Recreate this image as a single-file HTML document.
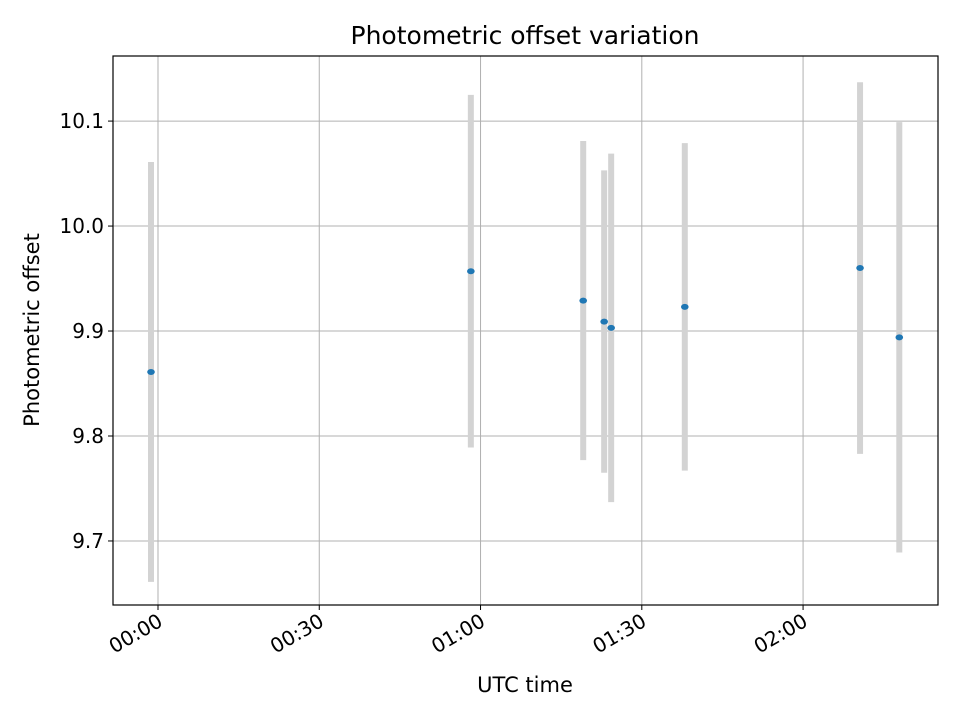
<!DOCTYPE html>
<html><head><meta charset="utf-8"><style>
body{margin:0;background:#fff;font-family:"DejaVu Sans","Liberation Sans",sans-serif;}
</style></head><body>
<svg id="chart" width="960" height="720" xmlns="http://www.w3.org/2000/svg" style="font-family:'DejaVu Sans','Liberation Sans',sans-serif">
<rect width="960" height="720" fill="#fff"/>
<g id="grid"></g>
<g id="bars"></g>
<g id="pts"></g>
<rect x="113" y="56" width="825" height="549" fill="none" stroke="#000" stroke-width="1.2"/>
<g id="axes"></g>
<text x="525" y="44" text-anchor="middle" style="font-size:25px">Photometric offset variation</text>
<text x="525" y="692" text-anchor="middle" style="font-size:21px">UTC time</text>
<text transform="translate(39,330) rotate(-90)" text-anchor="middle" style="font-size:21px">Photometric offset</text>
</svg>
<script>
const times=[-1.3,58.2,79.1,83.0,84.3,98.0,130.6,137.9]; // minutes after 00:00 UTC
const offsets=[9.861,9.957,9.929,9.909,9.903,9.923,9.960,9.894];
const errors=[0.200,0.168,0.152,0.144,0.166,0.156,0.177,0.205];
const xTicks=[0,30,60,90,120];
const xTickLabels=["00:00","00:30","01:00","01:30","02:00"];
const yTicks=[9.7,9.8,9.9,10.0,10.1];
const yTickLabels=["9.7","9.8","9.9","10.0","10.1"];
const X0=113,X1=938,Y0=56,Y1=605,xmin=-8.37,xmax=145.1,ymin=9.639,ymax=10.162;
const sx=v=>X0+(v-xmin)/(xmax-xmin)*(X1-X0);
const sy=v=>Y1-(v-ymin)/(ymax-ymin)*(Y1-Y0);
const NS="http://www.w3.org/2000/svg";
function mk(tag,attrs,parent){const e=document.createElementNS(NS,tag);for(const k in attrs)e.setAttribute(k,attrs[k]);document.getElementById(parent).appendChild(e);return e;}
xTicks.forEach((t,i)=>{const x=sx(t);
 const g=mk('line',{x1:x,x2:x,y1:Y0,y2:Y1,stroke:'#b0b0b0','stroke-width':1},'grid');
 
 const tk=mk('line',{x1:x,x2:x,y1:Y1,y2:Y1+5,stroke:'#000'},'axes');
 
 const tx=mk('text',{transform:`translate(${x+6},${Y1+20}) rotate(-30)`,'text-anchor':'end',style:'font-size:20px'},'axes');
 tx.textContent=xTickLabels[i];
 
});
yTicks.forEach((t,i)=>{const y=sy(t);
 const g=mk('line',{x1:X0,x2:X1,y1:y,y2:y,stroke:'#b0b0b0','stroke-width':1},'grid');
 
 const tk=mk('line',{x1:X0-5,x2:X0,y1:y,y2:y,stroke:'#000'},'axes');
 
 const tx=mk('text',{x:X0-9,y:y+7,'text-anchor':'end',style:'font-size:20px'},'axes');
 tx.textContent=yTickLabels[i];
 
});
times.forEach((t,i)=>{const x=sx(t);
 const b=mk('line',{x1:x,x2:x,y1:sy(offsets[i]+errors[i]),y2:sy(offsets[i]-errors[i]),stroke:'#d3d3d3','stroke-width':6},'bars');
 
 const p=mk('ellipse',{cx:x,cy:sy(offsets[i]),rx:3.8,ry:3,fill:'#1f77b4'},'pts');
 
});
</script>
</body></html>
